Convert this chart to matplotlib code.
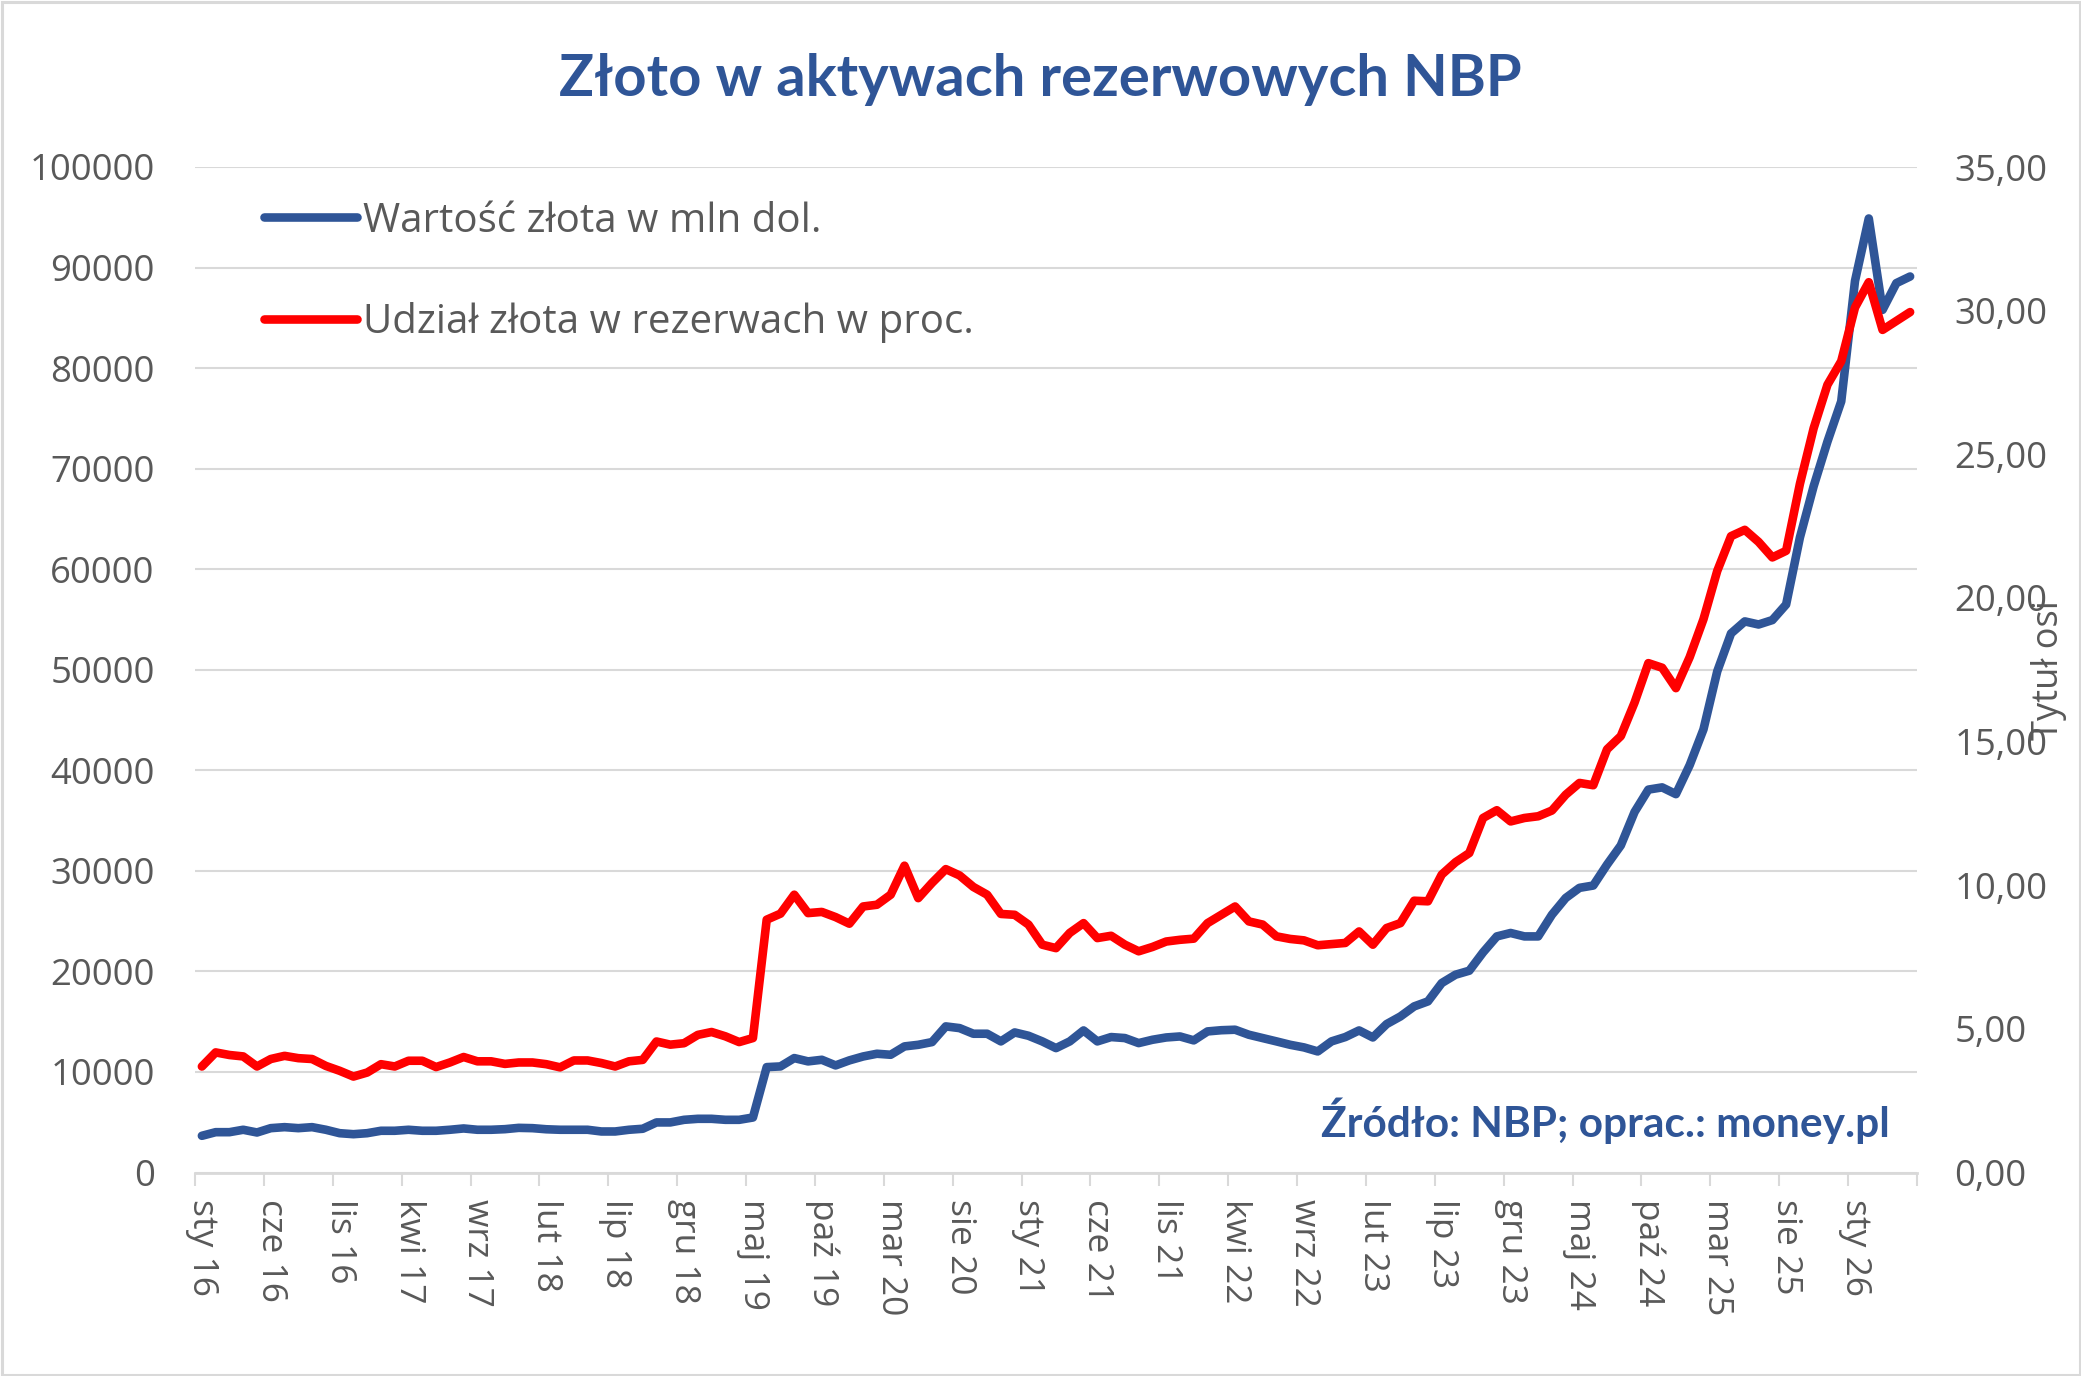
import matplotlib
matplotlib.use("Agg")
import matplotlib.pyplot as plt
from matplotlib.patches import Rectangle
from matplotlib.ticker import FixedLocator, FuncFormatter

# ---- data ----
gold_value_musd = [
    3650, 4010, 4010, 4250, 3980, 4410, 4510, 4410, 4510, 4250,
    3910, 3810, 3910, 4150, 4150, 4250, 4150, 4150, 4250, 4380,
    4250, 4250, 4310, 4440, 4410, 4300, 4250, 4250, 4250, 4080,
    4080, 4250, 4350, 4980, 4980, 5240, 5340, 5340, 5240, 5240,
    5470, 10480, 10550, 11380, 11050, 11210, 10650, 11150, 11540, 11810,
    11710, 12540, 12700, 12970, 14530, 14360, 13800, 13800, 13040, 13930,
    13600, 13040, 12370, 13040, 14130, 13040, 13470, 13370, 12870, 13200,
    13430, 13530, 13140, 14030, 14150, 14200, 13700, 13370, 13040, 12700,
    12440, 12040, 13040, 13470, 14130, 13430, 14760, 15520, 16520, 17020,
    18840, 19670, 20070, 21890, 23480, 23820, 23480, 23480, 25640, 27300,
    28310, 28540, 30620, 32530, 35860, 38080, 38300, 37630, 40520, 44070,
    49840, 53610, 54810, 54500, 54940, 56490, 63150, 68260, 72690, 76690,
    88670, 94880, 85790, 88450, 89110,
]
gold_share_pct = [
    3.69, 4.18, 4.09, 4.04, 3.69, 3.95, 4.06, 3.98, 3.95, 3.71,
    3.54, 3.34, 3.48, 3.77, 3.69, 3.89, 3.89, 3.67, 3.83, 4.02,
    3.87, 3.87, 3.78, 3.83, 3.83, 3.77, 3.66, 3.90, 3.90, 3.81,
    3.69, 3.87, 3.92, 4.56, 4.45, 4.50, 4.79, 4.89, 4.74, 4.54,
    4.68, 8.80, 9.01, 9.67, 9.03, 9.07, 8.89, 8.66, 9.26, 9.32,
    9.67, 10.68, 9.55, 10.08, 10.56, 10.34, 9.94, 9.67, 9.00, 8.97,
    8.63, 7.93, 7.81, 8.34, 8.68, 8.16, 8.24, 7.93, 7.70, 7.85,
    8.04, 8.10, 8.14, 8.68, 8.97, 9.26, 8.74, 8.63, 8.22, 8.13,
    8.08, 7.91, 7.95, 7.99, 8.39, 7.93, 8.51, 8.68, 9.46, 9.44,
    10.37, 10.80, 11.12, 12.34, 12.61, 12.22, 12.34, 12.40, 12.60, 13.15,
    13.56, 13.48, 14.73, 15.19, 16.36, 17.73, 17.57, 16.86, 17.94, 19.26,
    20.94, 22.15, 22.37, 21.95, 21.41, 21.64, 23.97, 25.91, 27.42, 28.24,
    30.11, 30.99, 29.33, 29.64, 29.95,
]
tick_labels = ["sty 16", "cze 16", "lis 16", "kwi 17", "wrz 17", "lut 18", "lip 18",
               "gru 18", "maj 19", "paź 19", "mar 20", "sie 20", "sty 21", "cze 21",
               "lis 21", "kwi 22", "wrz 22", "lut 23", "lip 23", "gru 23", "maj 24",
               "paź 24", "mar 25", "sie 25", "sty 26"]
label_step = 5
left_ticks = list(range(0, 100001, 10000))
right_ticks = [0, 5, 10, 15, 20, 25, 30, 35]

series_names = ["Wartość złota w mln dol.", "Udział złota w rezerwach w proc."]
title = "Złoto w aktywach rezerwowych NBP"
source = "Źródło: NBP; oprac.: money.pl"

# ---- style ----
W, H = 2081, 1376
BLUE = "#2F5597"
RED = "#FF0000"
GRID = "#D9D9D9"
TXT = "#595959"
TITLE_C = "#2F5597"
FONT = ["Open Sans", "DejaVu Sans"]
BFONT = ["Lato", "DejaVu Sans"]

fig = plt.figure(figsize=(W / 100, H / 100), dpi=100)
fig.patch.set_facecolor("white")

x0, x1 = 195, 1917
yb, yt = 1172.5, 167
ax = fig.add_axes([x0 / W, 1 - yb / H, (x1 - x0) / W, (yb - yt) / H])
ax2 = ax.twinx()

n = len(gold_value_musd)
xs = list(range(n))

l1, = ax.plot(xs, gold_value_musd, color=BLUE, lw=6.2,
              solid_capstyle="round", solid_joinstyle="round", zorder=3)
l2, = ax2.plot(xs, gold_share_pct, color=RED, lw=6.2,
               solid_capstyle="round", solid_joinstyle="round", zorder=3)

ax.set_xlim(-0.5, n - 0.5)
ax.set_ylim(0, 100000)
ax2.set_ylim(0, 35)

# gridlines
ax.set_yticks(left_ticks)
ax.yaxis.set_major_formatter(FuncFormatter(lambda v, p: f"{int(v)}"))
ax.grid(axis="y", color=GRID, lw=1.5)
ax.set_axisbelow(True)
ax2.set_yticks(right_ticks)
ax2.yaxis.set_major_formatter(FuncFormatter(lambda v, p: f"{v:.2f}".replace(".", ",")))

# x ticks: labels at category centers, marks at boundaries
label_pos = list(range(0, n, label_step))[:len(tick_labels)]
ax.set_xticks(label_pos)
ax.set_xticklabels(tick_labels[:len(label_pos)], rotation=-90, ha="center", va="top")
ax.xaxis.set_minor_locator(FixedLocator([b - 0.5 for b in range(0, n + 1, label_step)]))
ax.tick_params(axis="x", which="major", length=0, pad=19, labelsize=25.5, labelcolor=TXT)
ax.tick_params(axis="x", which="minor", length=9.5, width=1.5, color=GRID, direction="out")
ax.tick_params(axis="y", length=0, pad=29, labelsize=26.3, labelcolor=TXT)
ax2.tick_params(axis="y", length=0, pad=27, labelsize=26.3, labelcolor=TXT)
for t in ax.get_xticklabels() + ax.get_yticklabels() + ax2.get_yticklabels():
    t.set_fontfamily(FONT)

for a in (ax, ax2):
    for s in ("left", "right", "top"):
        a.spines[s].set_visible(False)
    a.spines["bottom"].set_color(GRID)
    a.spines["bottom"].set_linewidth(2)
ax2.spines["bottom"].set_visible(False)

ax2.set_ylabel("Tytuł osi", rotation=90, color=TXT, fontsize=26, family=FONT, labelpad=0)
ax2.yaxis.label.set_verticalalignment("center")
ax2.yaxis.set_label_coords(2049 / W, 1 - 670 / H, transform=fig.transFigure)

leg = ax2.legend([l1, l2], series_names, loc="upper left",
                 bbox_to_anchor=(264 / W, 1 - 201 / H), bbox_transform=fig.transFigure,
                 frameon=False, handlelength=2.3, handletextpad=0.15, labelspacing=1.5,
                 borderpad=0, borderaxespad=0,
                 prop={"family": FONT, "size": 29})
for t in leg.get_texts():
    t.set_color(TXT)

fig.text(0.5, 1 - 80 / H, title, ha="center", va="center", fontsize=41.8,
         fontweight="bold", color=TITLE_C, family=BFONT)
fig.text(1890 / W, 1 - 1121 / H, source, ha="right", va="center", fontsize=30.5,
         fontweight="bold", color=TITLE_C, family=BFONT)

fig.add_artist(Rectangle((1.5 / W, 1.5 / H), 1 - 3 / W, 1 - 3 / H, transform=fig.transFigure,
                         fill=False, edgecolor=GRID, lw=2.2))

fig.savefig("out.png", dpi=100, facecolor="white")
